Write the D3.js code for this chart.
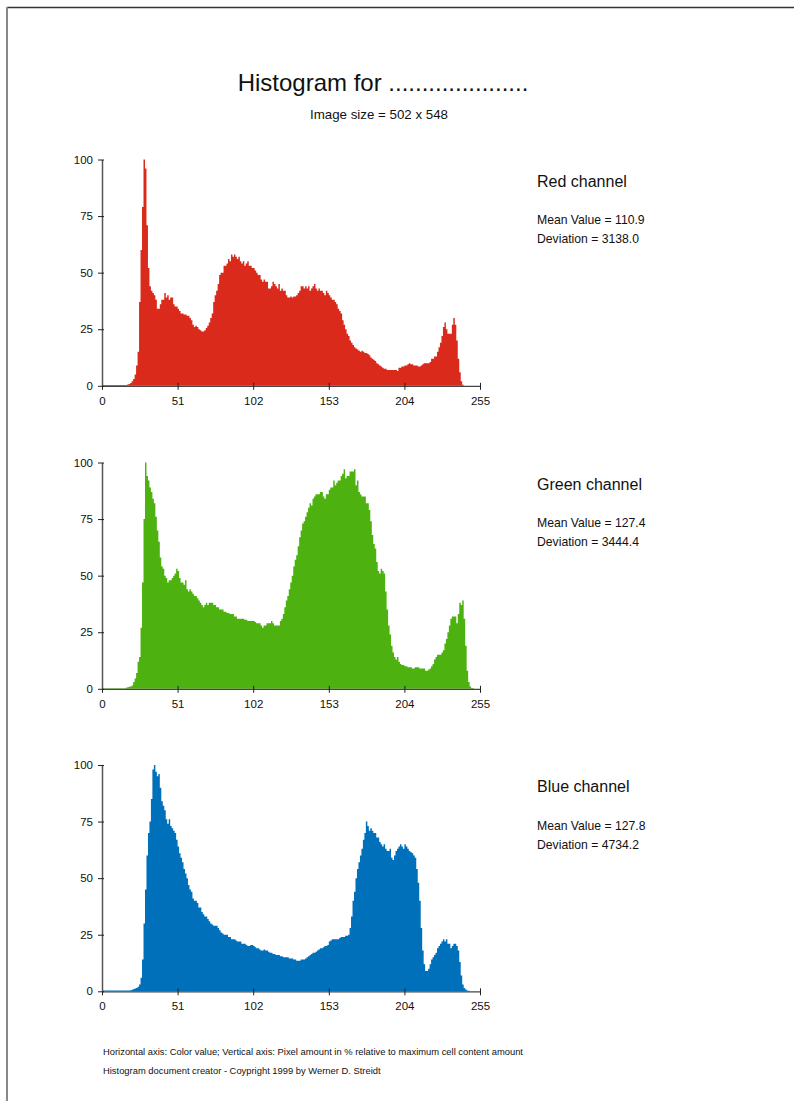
<!DOCTYPE html>
<html><head><meta charset="utf-8">
<script src="https://cdn.jsdelivr.net/npm/d3@7"></script>
<style>
html,body{margin:0;padding:0;background:#fff;}
svg text{font-family:"Liberation Sans",Arial,sans-serif;}
</style></head>
<body><svg id="c" width="794" height="1101"></svg>
<script>
const titleText = "Histogram for .....................";
const subtitleText = "Image size = 502 x 548";
const footerLines = [
  "Horizontal axis: Color value; Vertical axis: Pixel amount in % relative to maximum cell content amount",
  "Histogram document creator - Coypright 1999 by Werner D. Streidt"
];
const xTicks = [0, 51, 102, 153, 204, 255];
const yTicks = [0, 25, 50, 75, 100];
const channelNames = ["Red channel", "Green channel", "Blue channel"];
const meanValues = ["110.9", "127.4", "127.8"];
const deviations = ["3138.0", "3444.4", "4734.2"];
const channelColors = ["#d92a1c", "#4db210", "#0070ba"];

const redValues = [
0.3,0.3,0.3,0.3,0.3,0.3,0.3,0.3,0.3,0.3,0.3,0.3,0.3,0.3,0.3,0.3,
0.4,0.6,0.8,1.2,2,3,5,9,15,37,60,79,100,96,71,52,
44,42,41,40,38,34,34,36,38,38,41,39,40,38,39,39,
36,35,35,34,33,32,32,31.5,31.5,31,31,30,29,27,26,26.5,
26,25,24.5,24,24,24.5,25.5,26.5,28,30,32,37,40,42,45,49,
50,50,53,53,54,56,55,58,57,58,57,56,57,55,54,55,
53,54,55,53,53,52,52,51,50,49,49,47,46,47,46,46,
43,43,44,46,45,44,43,45,42,43,42,42,40,39,39,39.5,
39,39.5,39.5,40,41,42,44,44,43,44,43,44,42,43,44,45,
43,42,43,42,42,41,40,42,41,40,39,38,38,37,36,34,
33,32,29,27,25,23,22,20,19,18,17,16.5,16,15.5,15,15.5,
15,14.5,14.5,14,13.5,12.5,12,11.5,11,10,9.5,9,8.5,8,7.5,7.5,
7,7,7,7,7,7,7,6.5,8,8,8.5,8.5,9,9,9.5,10,
9.5,9.5,9,9,9,8.5,8.5,9,9.5,10,10,10,10,10.5,12,12,
13,13,15,17,19,22,26,28,25,23,23,23,27,30,27,20,
12,6,2,0.5,0,0,0,0,0,0,0,0,0,0,0,0];

const greenValues = [
0.2,0.2,0.2,0.2,0.2,0.2,0.2,0.2,0.2,0.2,0.2,0.2,0.2,0.2,0.2,0.2,
0.5,0.7,0.9,1,1.5,3,4.5,7,12,14,27,47,75,100,94,92,
89,87,84,82,76,70,65,58,54,53,50,49,47,48,48,49,
50,51,53,52,49,47,47,46,48,44,43,44,43,42,41,41,
40,39,38,37,36,37,38,37,38,38,38,37,37,36,36,35,
35,35,34,34,33.5,33.5,33,33,33,32,32,31,31,31,31,31,
30.5,30.5,30,30,30,30,30,29.5,29,29,29,28,27,28,28,29,
29,29,30,29,28,28,28,28,30,31,33,36,39,41,44,47,
50,54,57,59,63,67,70,73,74,76,78,80,82,81,84,85,
86,86,86,87,87,85,84,86,86,88,89,89,92,90,91,92,
92,94,95,97,93,94,94,96,96,96,97,90,92,87,86,85,
85,85,82,82,79,74,68,64,62,56,52,51,53,52,51,43,
35,28,24,19,16,14,13,14,12,11,10.5,10.5,10,10,9.5,9.5,
9.5,9,9,9.5,9.5,9.5,9,9,9,9,8,8,8.5,9,10,11,
13,14,15,15,15,16,17,20,22,25,28,31,32,32,32,29,
33,38,37,39,31,19,8,3,1,0.3,0.2,0,0,0,0,0];

const blueValues = [
0.3,0.3,0.3,0.3,0.3,0.3,0.3,0.3,0.3,0.3,0.3,0.3,0.3,0.3,0.3,0.3,
0.3,0.3,0.4,0.5,0.7,1,1.2,1.5,2,3,6,14,30,45,60,70,
75,85,98,100,97,95,96,90,84,82,80,76,74,76,73,72,
71,70,67,64,61,59,57,54,52,50,47,45,44,41,40,40,
39,37,37,35,34,33,33,32,31,30,29.5,29,29,29,28,27,
26,25.5,25,25,25,24,24,23,23,23,22.5,22,22,22,21,21,
21,20.5,20,20,20.5,20.5,20,19.5,19,19,18.5,18,18,18.5,18,18,
17.5,17,17,16.5,16.5,16,16,16,15.5,15.5,15,15,15,15,14.5,14.5,
14.5,14,14,13.5,13.5,13.5,14,14,14,14.5,15,15.5,16,16.5,17,17,
17.5,18,18.5,19,19,19.5,20,20,20.5,22,22.5,23,23,23,23,23,
23.5,24,24,24,24.5,24.5,25,28,33,40,44,50,54,57,60,63,
67,70,75,73,71,72,71,70,70,68,68,66,65,64,65,63,
62,62,63,59,58,60,62,63,64,65,64,63,65,64,63,62,
61.5,61,60,59,54,48,40,28,18,12,9,9,10,12,14,15,
16,17,19,20,21,22,23,22,23,21,21,19,20,21,21,20,
18,13,7,3,1.5,0.8,0.3,0.2,0,0,0,0,0,0,0,0];

const channelValues = [redValues, greenValues, blueValues];

const svg = d3.select("#c");

// page border (top and left)
svg.append("line").attr("x1", 7).attr("x2", 794).attr("y1", 7.5).attr("y2", 7.5)
  .attr("stroke", "#333").attr("stroke-width", 1.5);
svg.append("line").attr("x1", 7).attr("x2", 7).attr("y1", 7).attr("y2", 1101)
  .attr("stroke", "#888").attr("stroke-width", 2);

svg.append("text").attr("x", 383).attr("y", 91).attr("text-anchor", "middle")
  .attr("font-size", 24).attr("fill", "#111").text(titleText);
svg.append("text").attr("x", 379).attr("y", 119).attr("text-anchor", "middle")
  .attr("font-size", 13.3).attr("fill", "#111").text(subtitleText);

const x = d3.scaleLinear().domain([0, 255]).range([102, 480]);
const panelTops = [159.5, 462.5, 765];
const panelH = 226.3;

channelValues.forEach((vals, k) => {
  const top = panelTops[k];
  const y = d3.scaleLinear().domain([0, 100]).range([top + panelH, top]);
  const g = svg.append("g");
  const pts = vals.map((v, i) => [i, v]).concat([[vals.length, vals[vals.length - 1]]]);
  const area = d3.area()
    .x(d => x(d[0]))
    .y0(y(0))
    .y1(d => y(d[1]))
    .curve(d3.curveStepAfter);
  g.append("path").datum(pts).attr("d", area).attr("fill", channelColors[k]);

  const xa = g.append("g").attr("transform", `translate(0,${y(0)})`)
    .call(d3.axisBottom(x).tickValues(xTicks).tickSize(4).tickSizeOuter(0).tickPadding(7));
  xa.selectAll(".tick line").attr("y1", -3).attr("stroke", "#222");
  xa.select(".domain").attr("stroke", "#444").attr("stroke-width", 1.2);
  xa.selectAll("text").attr("font-size", 11.5).attr("fill", "#111")
    .attr("font-family", "Liberation Sans, Arial, sans-serif");

  const ya = g.append("g").attr("transform", `translate(${x(0)},0)`)
    .call(d3.axisLeft(y).tickValues(yTicks).tickSize(4).tickSizeOuter(0).tickPadding(5));
  ya.selectAll(".tick line").attr("x1", 2).attr("stroke", "#222");
  ya.select(".domain").attr("stroke", "#555").attr("stroke-width", 1.5);
  ya.selectAll("text").attr("font-size", 11.5).attr("fill", "#111")
    .attr("font-family", "Liberation Sans, Arial, sans-serif");

  svg.append("text").attr("x", 537).attr("y", top + 27).attr("font-size", 16)
    .attr("fill", "#111").text(channelNames[k]);
  svg.append("text").attr("x", 537).attr("y", top + 64.5).attr("font-size", 12.2)
    .attr("fill", "#111").text("Mean Value = " + meanValues[k]);
  svg.append("text").attr("x", 537).attr("y", top + 83.5).attr("font-size", 12.2)
    .attr("fill", "#111").text("Deviation = " + deviations[k]);
});

footerLines.forEach((t, i) => {
  svg.append("text").attr("x", 103).attr("y", 1055 + i * 19).attr("font-size", 9.4)
    .attr("fill", "#111").text(t);
});
</script></body></html>
